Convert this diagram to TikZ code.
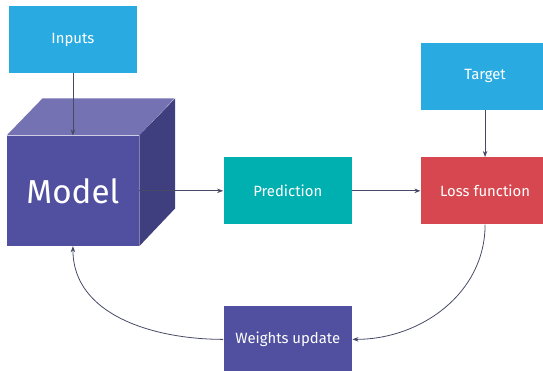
\documentclass[tikz,border=0pt]{standalone}
\usepackage{fontspec}
\setmainfont{Fira Sans}
\usepackage{xcolor}
\usetikzlibrary{arrows.meta, backgrounds, calc, positioning}
\definecolor{skyblue}{HTML}{29ABE2}
\definecolor{predteal}{HTML}{00AFB0}
\definecolor{lossred}{HTML}{D64750}
\definecolor{cubefront}{HTML}{5150A0}
\definecolor{cubetop}{HTML}{7472B2}
\definecolor{cubeside}{HTML}{3F3E7E}
\definecolor{wire}{HTML}{464A66}
\tikzset{> = { Stealth[length = 1.6mm, width = 1.2mm] }}

\begin{document}
\begin{tikzpicture}[->, wire, semithick, box/.style = { rectangle, inner sep = 0, minimum width = 3.4cm, minimum height = 1.77cm, text = white, font = \fontsize{11.2}{13}\selectfont }]
		\useasboundingbox (-1.93, -4.76) rectangle (12.44, 5.05);

		\node [box, fill = cubefront, minimum width = 3.49cm, minimum height = 2.91cm, font = \fontsize{25}{30}\selectfont] (model) {Model};
		\node [box, fill = skyblue, above = 1.64 of model]       (inputs)     {Inputs};
		\node [box, fill = predteal, right = 2.22 of model]      (prediction) {Prediction};
		\node [box, fill = lossred, right = 1.8 of prediction]   (loss)       {Loss function};
		\node [box, fill = skyblue, above = 1.24 of loss]        (target)     {Target};
		\node [box, fill = cubefront, below = 2.14 of prediction] (weights)   {Weights update};

		% the two back faces of the cube
		\begin{scope}[on background layer]
			\fill [cubetop] (model.north west) -- ++(0.95, 0.98) -- ++(3.49, 0) -- (model.north east) -- cycle;
			\fill [cubeside] (model.north east) -- ++(0.95, 0.98) -- ++(0, -2.91) -- (model.south east) -- cycle;
		\end{scope}

		\draw (inputs.south) -- (inputs.south |- model.north);
		\draw (model) -- (prediction);
		\draw (prediction) -- (loss);
		\draw (target) -- (loss);

		\draw (loss.south) to [out = -90, in = 0] (weights.east);
		\draw (weights.west) to [out = 180, in = -90] (model.south);
	\end{tikzpicture}
\end{document}
